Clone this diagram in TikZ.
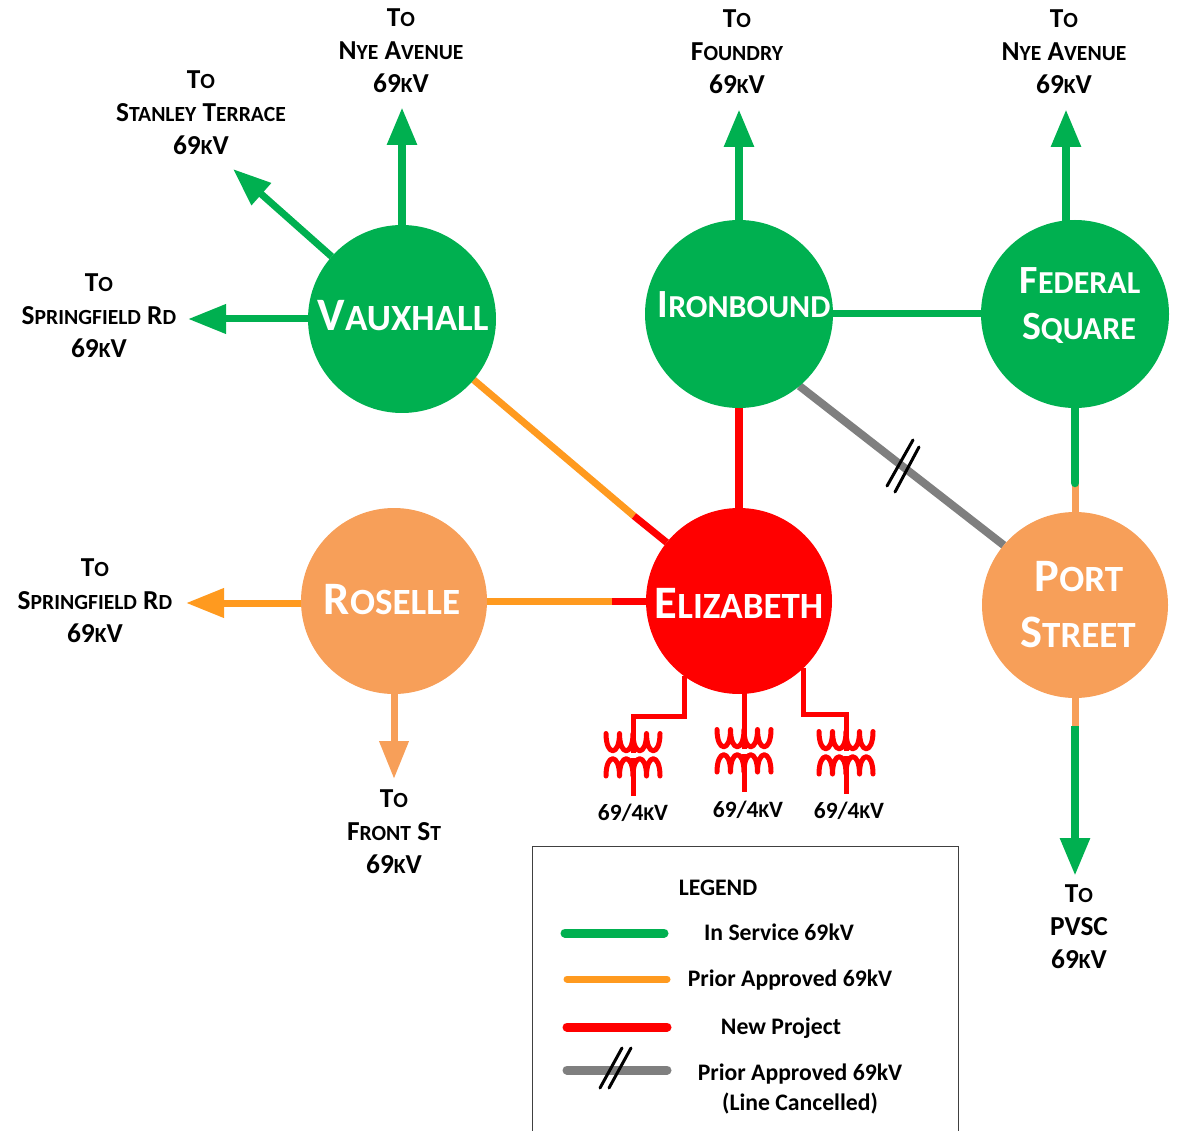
\documentclass[tikz,border=0pt]{standalone}
\usepackage{fontspec}
\setmainfont{Carlito}
\usetikzlibrary{arrows.meta,backgrounds,calc}
\definecolor{ingreen}{HTML}{00B050}
\definecolor{prior}{HTML}{FF9A1F}
\definecolor{sandy}{HTML}{F79F59}
\definecolor{newred}{HTML}{FF0000}
\definecolor{cancel}{HTML}{7F7F7F}
\newcommand{\Sm}[1]{{\fontsize{21.6}{33}\selectfont #1}}
\newcommand{\Sr}[1]{{\fontsize{19.5}{26}\selectfont #1}}
\newcommand{\Hs}[1]{{\fontsize{37}{40}\selectfont #1}}
\newcommand{\Ht}[1]{{\fontsize{32}{40}\selectfont #1}}
\tikzset{
  x=1pt,y=-1pt,
  bus/.style={circle,minimum size=#1,inner sep=0pt,outer sep=0pt},
  busname/.style={text=white,font=\fontsize{46.5}{48}\selectfont\bfseries,align=center,inner sep=0pt},
  busnamesm/.style={text=white,font=\fontsize{40}{48}\selectfont\bfseries,align=center,inner sep=0pt},
  dest/.style={align=center,inner sep=0pt,font=\fontsize{27.4}{33}\selectfont\bfseries},
  ratio/.style={inner sep=0pt,font=\fontsize{23.4}{26}\selectfont\bfseries},
  legtext/.style={align=center,inner sep=0pt,font=\fontsize{23.7}{30}\selectfont\bfseries},
  feeder/.style={line width=7pt},
  trunk/.style={line width=8.5pt},
  headtip/.style={-{Triangle[length=38pt,width=28pt]}},
  tick/.style={black,line width=3pt,line cap=round},
  xfmr/.pic={
    \draw[newred,line width=5pt,line cap=round,line join=round]
      (-27,-19.5) .. controls (-27,3.5) and (-13.5,3.5) .. (-13.5,-19.5)
      .. controls (-13.5,3.5) and (0,3.5) .. (0,-19.5)
      .. controls (0,3.5) and (13.5,3.5) .. (13.5,-19.5)
      .. controls (13.5,3.5) and (27,3.5) .. (27,-19.5);
    \draw[newred,line width=5pt,line cap=round,line join=round]
      (-27,23) .. controls (-27,0) and (-13.5,0) .. (-13.5,23)
      .. controls (-13.5,0) and (0,0) .. (0,23)
      .. controls (0,0) and (13.5,0) .. (13.5,23)
      .. controls (13.5,0) and (27,0) .. (27,23);
    \draw[newred,line width=5pt] (0,5) -- (0,43);
  }
}
\begin{document}
\begin{tikzpicture}
\useasboundingbox (0,0) rectangle (1178,1131);
% buses
\node[bus=188pt,fill=ingreen] (vaux) at (402,319) {};
\node[bus=188pt,fill=ingreen] (iron) at (739,314) {};
\node[bus=188pt,fill=ingreen] (fed) at (1075,314) {};
\node[bus=186pt,fill=sandy] (ros) at (394,601) {};
\node[bus=186pt,fill=newred] (eliz) at (739,601) {};
\node[bus=186pt,fill=sandy] (port) at (1075,605) {};
\node[busname] (vauxT) at (403,316) {V\Hs{AUXHALL}};
\node[busnamesm] (ironT) at (744,305) {I\Ht{RONBOUND}};
\node[busnamesm] (fedT) at (1080,281) {F\Ht{EDERAL}};
\node[busnamesm] (fedTb) at (1079,328) {S\Ht{QUARE}};
\node[busname] (rosT) at (392,600) {R\Hs{OSELLE}};
\node[busname] (elizT) at (739,603) {E\Hs{LIZABETH}};
\node[busname] (portT) at (1079,577) {P\Hs{ORT}};
\node[busname] (portTb) at (1078,632) {S\Hs{TREET}};
% destinations
\node[dest] (dNye) at (401,51) {T\Sm{O}\\N\Sm{YE} A\Sm{VENUE}\\69\Sm{K}V};
\node[dest] (dStan) at (201,113) {T\Sm{O}\\S\Sm{TANLEY} T\Sm{ERRACE}\\69\Sm{K}V};
\node[dest] (dSpr) at (99,316) {T\Sm{O}\\S\Sm{PRINGFIELD} R\Sm{D}\\69\Sm{K}V};
\node[dest] (dFou) at (737,52) {T\Sm{O}\\F\Sm{OUNDRY}\\69\Sm{K}V};
\node[dest] (dNyeb) at (1064,52) {T\Sm{O}\\N\Sm{YE} A\Sm{VENUE}\\69\Sm{K}V};
\node[dest] (dSprb) at (95,601) {T\Sm{O}\\S\Sm{PRINGFIELD} R\Sm{D}\\69\Sm{K}V};
\node[dest] (dFro) at (394,832) {T\Sm{O}\\F\Sm{RONT} S\Sm{T}\\69\Sm{K}V};
\node[dest] (dPvsc) at (1079,927) {T\Sm{O}\\PVSC\\69\Sm{K}V};
% free ends and colour changes
\coordinate (tNye) at (402,107);
\coordinate (tStan) at (233,169);
\coordinate (tSpr) at (188,319);
\coordinate (tFou) at (739,109);
\coordinate (tNyeb) at (1066,109);
\coordinate (tSprb) at (186,603);
\coordinate (tFro) at (394,779);
\coordinate (tPvsc) at (1075,876);
\coordinate (sVE) at (634,516);
\coordinate (sRE) at (612,601);
\coordinate (sFP) at (1075,483);
\coordinate (sPP) at (1075,726);
\coordinate (j1) at (633,716);
\coordinate (j3) at (846,714);
\coordinate (t1) at (633,753);
\coordinate (t2) at (744,749);
\coordinate (t3) at (846,751);
\begin{pgfonlayer}{background}
\draw[trunk,ingreen,headtip] (vaux) -- (tNye);
\draw[feeder,ingreen,headtip] (vaux) -- (tStan);
\draw[feeder,ingreen,headtip] (vaux) -- (tSpr);
\draw[trunk,ingreen,headtip] (iron) -- (tFou);
\draw[trunk,ingreen,headtip] (tNyeb |- fed) -- (tNyeb);
\draw[feeder,ingreen] (iron) -- (fed);
\draw[feeder,sandy] (sFP) -- (port);
\draw[trunk,ingreen,line cap=round] (fed) -- (sFP);
\draw[feeder,prior] (vaux) -- (sVE);
\draw[feeder,newred] (sVE) -- (eliz);
\draw[trunk,newred] (iron) -- (eliz);
\draw[feeder,prior] (ros) -- (sRE);
\draw[feeder,newred] (sRE) -- (eliz);
\draw[feeder,prior,headtip] (tSprb -| ros) -- (tSprb);
\draw[feeder,sandy,headtip] (ros) -- (tFro);
\draw[feeder,sandy] (port) -- (sPP);
\draw[trunk,ingreen,headtip] (sPP) -- (tPvsc);
\draw[line width=8pt,cancel] (iron.-50) -- (port.140.7);
\draw[newred,line width=5pt,line join=miter] (eliz.-126) |- (j1) -- (t1);
\draw[newred,line width=5pt] (t2 |- eliz) -- (t2);
\draw[newred,line width=5pt,line join=miter] (eliz.-46.5) |- (j3) -- (t3);
\end{pgfonlayer}
% cancelled-line marks
\coordinate (c1a) at (913,440); \coordinate (c1b) at (887,486);
\coordinate (c2a) at (919,447); \coordinate (c2b) at (895,492);
\draw[tick] (c1a) -- (c1b);
\draw[tick] (c2a) -- (c2b);
% transformers
\pic at (t1) {xfmr};
\pic at (t2) {xfmr};
\pic at (t3) {xfmr};
\node[ratio] (r1) at (633,813) {69/4\Sr{K}V};
\node[ratio] (r2) at (748,810) {69/4\Sr{K}V};
\node[ratio] (r3) at (849,811) {69/4\Sr{K}V};
% legend
\coordinate (b1) at (532.5,1131); \coordinate (b2) at (532.5,846.5);
\coordinate (b3) at (958.5,846.5); \coordinate (b4) at (958.5,1131);
\draw[line width=1pt,black!75] (b1) -- (b2) -- (b3) -- (b4);
\node[legtext] (lTitle) at (718,888) {LEGEND};
\coordinate (g1) at (565,933); \coordinate (g2) at (664,933);
\coordinate (o1) at (567,979); \coordinate (o2) at (667,979);
\coordinate (n1) at (567,1027); \coordinate (n2) at (667,1027);
\coordinate (x1) at (567,1070); \coordinate (x2) at (667,1070);
\draw[line width=9pt,line cap=round,ingreen] (g1) -- (g2);
\draw[line width=7pt,line cap=round,prior] (o1) -- (o2);
\draw[line width=9pt,line cap=round,newred] (n1) -- (n2);
\draw[line width=9pt,line cap=round,cancel] (x1) -- (x2);
\coordinate (k1a) at (631,1048); \coordinate (k1b) at (609,1088);
\coordinate (k2a) at (622,1048); \coordinate (k2b) at (600,1088);
\draw[tick] (k1a) -- (k1b);
\draw[tick] (k2a) -- (k2b);
\node[legtext] (lg) at (779,932) {In Service 69kV};
\node[legtext] (lo) at (790,980) {Prior Approved 69kV};
\node[legtext] (ln) at (781,1028) {New Project};
\node[legtext] (lx) at (800,1089) {Prior Approved 69kV\\(Line Cancelled)};
\end{tikzpicture}
\end{document}
